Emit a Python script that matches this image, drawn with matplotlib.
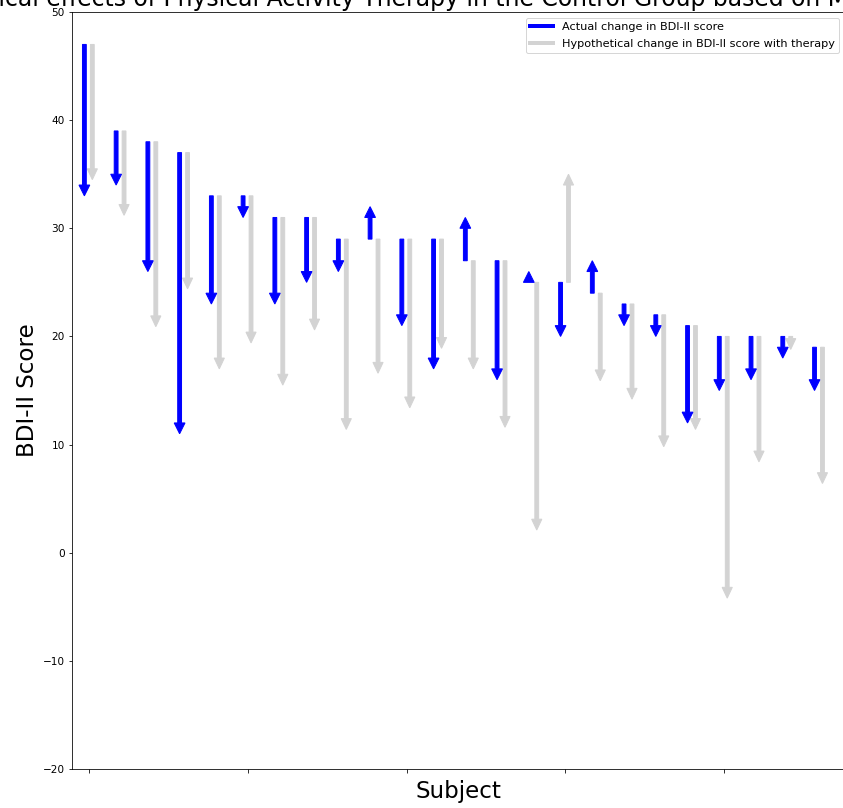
import matplotlib
matplotlib.use("Agg")
import matplotlib.pyplot as plt
from matplotlib.lines import Line2D
import numpy as np

# BDI-II scores per subject (control group)
pre_scores = [47, 39, 38, 37, 33, 33, 31, 31, 29, 29, 29, 29,
              27, 27, 25, 25, 24, 23, 22, 21, 20, 20, 20, 19]
post_scores = [33, 34, 26, 11, 23, 31, 23, 25, 26, 32, 21, 17,
               31, 16, 26, 20, 27, 21, 20, 12, 15, 16, 18, 15]
hypo_scores = [34.5, 31.2, 20.9, 24.4, 17.0, 19.4, 15.5, 20.6, 11.4, 16.6, 13.4, 18.9,
               17.0, 11.6, 2.1, 35.0, 15.9, 14.2, 9.8, 11.4, -4.2, 8.4, 18.8, 6.4]

DPI = 72
fig = plt.figure(figsize=(843 / DPI, 808 / DPI), dpi=DPI)
ax = fig.add_axes([72 / 843, 39 / 808, 773 / 843, 757 / 808])

x = np.arange(len(pre_scores))

for i in x:
    # actual change
    ax.arrow(i - 0.15, pre_scores[i], 0, post_scores[i] - pre_scores[i],
             width=0.12, head_width=0.34, head_length=1.0,
             length_includes_head=True, color="blue", zorder=3)
    # hypothetical change with therapy
    ax.arrow(i + 0.1, pre_scores[i], 0, hypo_scores[i] - pre_scores[i],
             width=0.12, head_width=0.32, head_length=1.0,
             length_includes_head=True, color="lightgray", zorder=2)

ax.set_xlim(-0.54, 23.81)
ax.set_ylim(-20, 50)
ax.set_xticks([0, 5, 10, 15, 20])
ax.set_xticklabels([])
ax.tick_params(axis="y", labelsize=10.5)

ax.set_xlabel("Subject", fontsize=23)
ax.set_ylabel("BDI-II Score", fontsize=23)
ax.set_title("Hypothetical effects of Physical Activity Therapy in the Control Group "
             "based on Meta-Analysis", fontsize=23.5, x=0.477)

handles = [Line2D([0], [0], color="blue", lw=4),
           Line2D([0], [0], color="lightgray", lw=4)]
ax.legend(handles, ["Actual change in BDI-II score",
                    "Hypothetical change in BDI-II score with therapy"],
          loc="upper right", fontsize=11.3, labelspacing=0.6)

fig.savefig("out.png", dpi=DPI)
